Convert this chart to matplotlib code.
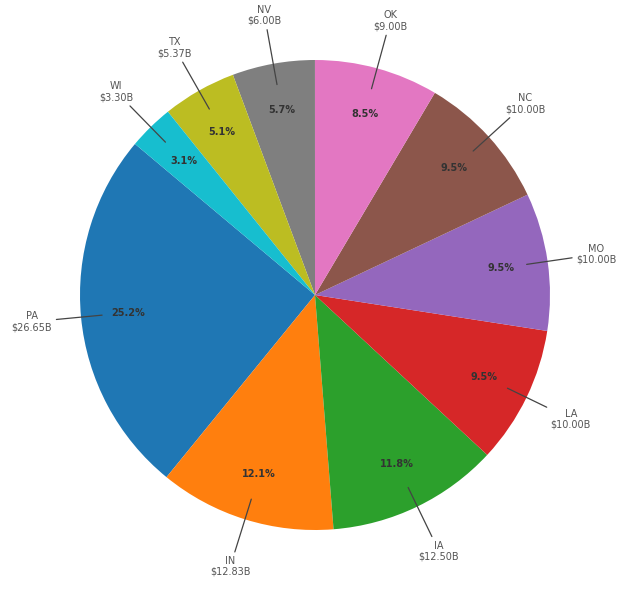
import numpy as np
import matplotlib
matplotlib.use("Agg")
import matplotlib.pyplot as plt

states = ["PA", "IN", "IA", "LA", "MO", "NC", "OK", "NV", "TX", "WI"]
values = [26.65, 12.83, 12.50, 10.00, 10.00, 10.00, 9.00, 6.00, 5.37, 3.30]
colors = ["#1f77b4", "#ff7f0e", "#2ca02c", "#d62728", "#9467bd",
          "#8c564b", "#e377c2", "#7f7f7f", "#bcbd22", "#17becf"]

W, H = 637, 599
fig = plt.figure(figsize=(W / 100, H / 100), dpi=100)
cx, cy, R = 315, 295, 235
L = 1.3
S = 2 * L * R
ax = fig.add_axes([(cx - S / 2) / W, (H - cy - S / 2) / H, S / W, S / H])

wedges, texts, autotexts = ax.pie(
    values, colors=colors, startangle=140, counterclock=True,
    autopct="%1.1f%%", pctdistance=0.8,
    textprops=dict(fontsize=7, color="#333333", fontweight="bold"))

for w, name, v in zip(wedges, states, values):
    ang = np.deg2rad((w.theta1 + w.theta2) / 2)
    c, s = np.cos(ang), np.sin(ang)
    ax.annotate(f"{name}\n${v:.2f}B", xy=(0.91 * c, 0.91 * s),
                xytext=(1.21 * c, 1.21 * s), ha="center", va="center",
                fontsize=7, color="#555555", linespacing=1.1,
                arrowprops=dict(arrowstyle="-", color="#444444", lw=0.9,
                                shrinkA=1, shrinkB=0))

ax.set_xlim(-L, L)
ax.set_ylim(-L, L)
ax.set_aspect("equal")
ax.axis("off")
fig.savefig("out.png", dpi=100)
